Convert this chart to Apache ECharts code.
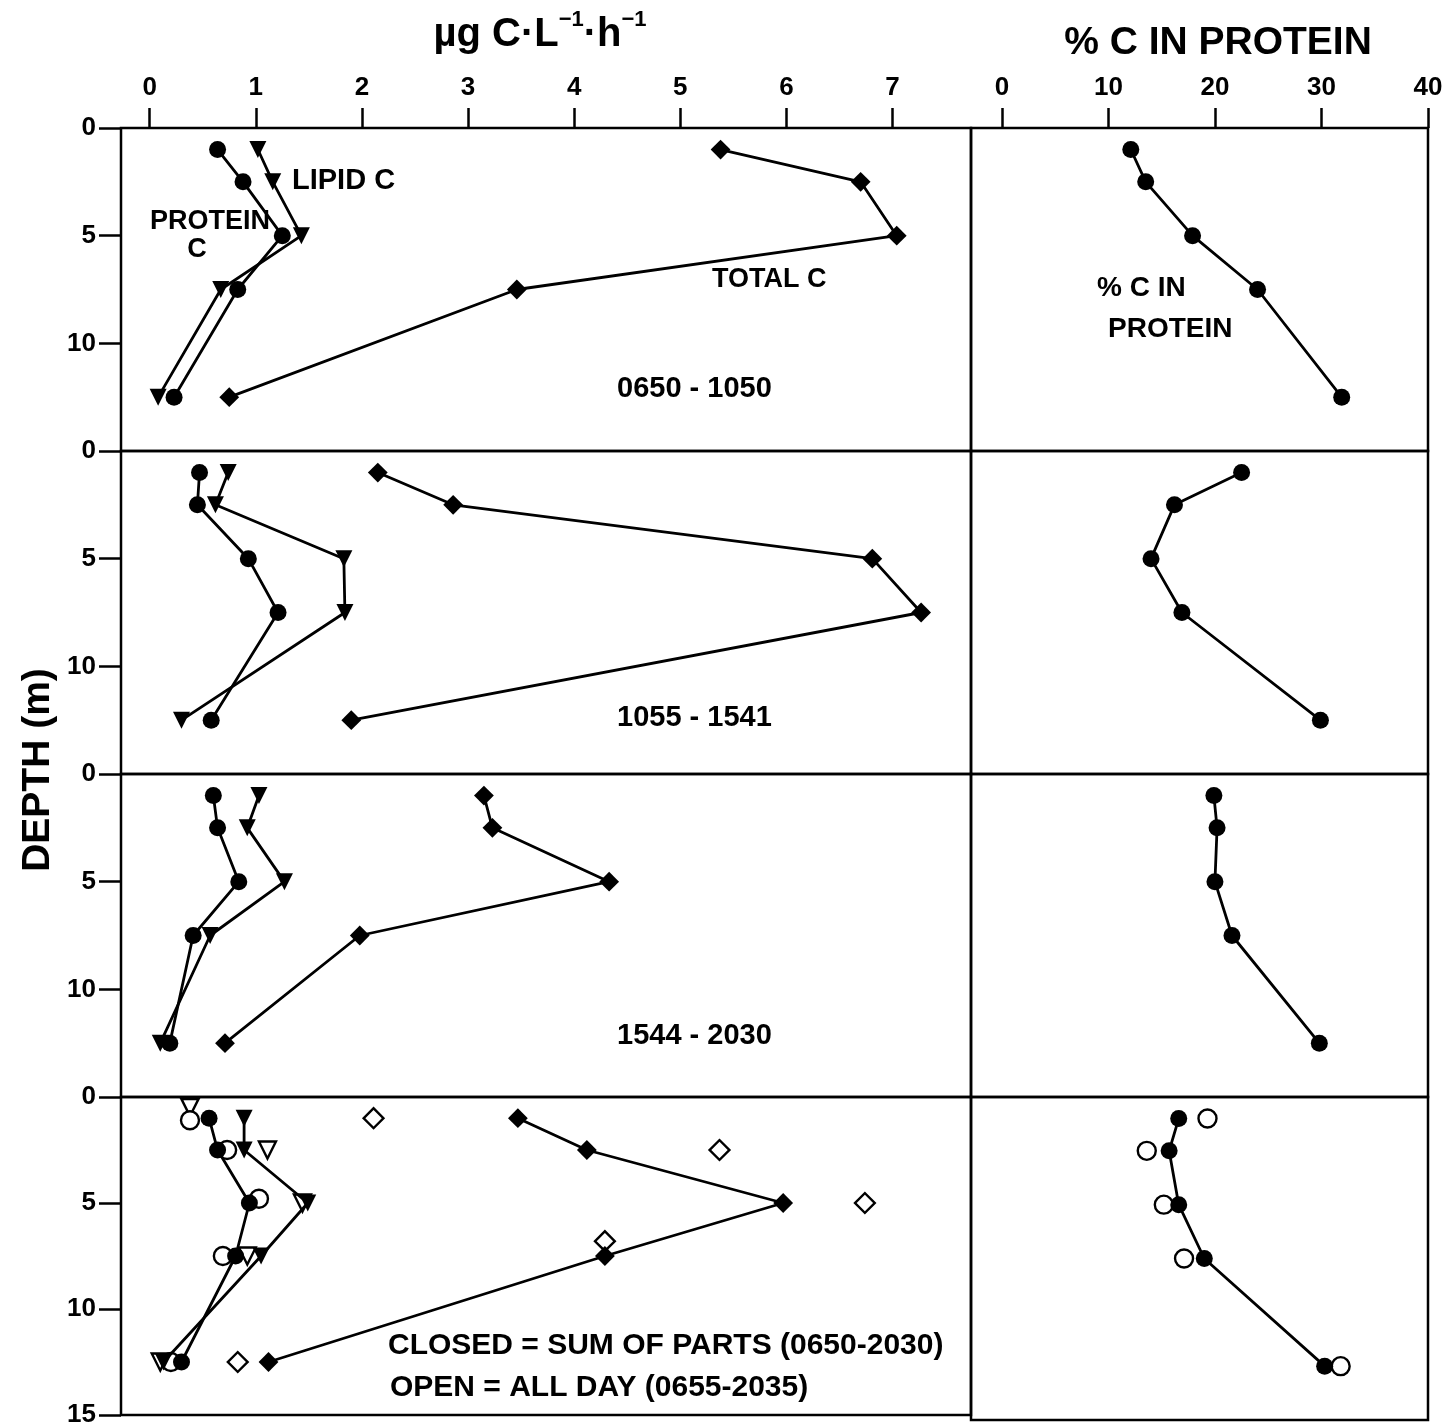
<!DOCTYPE html>
<html>
<head>
<meta charset="utf-8">
<title>Depth profiles of carbon incorporation</title>
<script src="https://cdn.jsdelivr.net/npm/echarts@6/dist/echarts.min.js"></script>
<style>
  html, body { margin: 0; padding: 0; background: #fff; }
  #chart { width: 1453px; height: 1428px; }
</style>
</head>
<body>
<div id="chart"></div>
<script>
// sampling depths (m)
const depthM = [1, 2.5, 5, 7.5, 12.5];
const periods = ['0650 - 1050', '1055 - 1541', '1544 - 2030'];
const rateTicks = [0, 1, 2, 3, 4, 5, 6, 7];
const pctTicks = [0, 10, 20, 30, 40];

// closed symbols, one row per time panel (µg C·L-1·h-1)
const proteinC = [
  [0.64, 0.88, 1.25, 0.83, 0.23],
  [0.47, 0.45, 0.93, 1.21, 0.58],
  [0.60, 0.64, 0.84, 0.41, 0.19],
  [0.56, 0.64, 0.94, 0.81, 0.30]
];
const lipidC = [
  [1.02, 1.16, 1.43, 0.67, 0.08],
  [0.74, 0.62, 1.83, 1.84, 0.30],
  [1.03, 0.92, 1.27, 0.57, 0.10],
  [0.89, 0.89, 1.49, 1.05, 0.13]
];
const totalC = [
  [5.38, 6.70, 7.04, 3.46, 0.75],
  [2.15, 2.86, 6.81, 7.27, 1.90],
  [3.15, 3.23, 4.33, 1.98, 0.71],
  [3.47, 4.12, 5.97, 4.29, 1.12]
];
// % C in protein
const pctProtein = [
  [12.1, 13.5, 17.9, 24.0, 31.9],
  [22.5, 16.2, 14.0, 16.9, 29.9],
  [19.9, 20.2, 20.0, 21.6, 29.8],
  [16.6, 15.7, 16.6, 19.0, 30.3]
];

// open symbols: all day incubation (0655-2035), bottom panel only
const openProtein = [0.38, 0.73, 1.03, 0.69, 0.20];
const openProteinDepth = [1.1, 2.5, 4.8, 7.5, 12.5];
const openLipid = [0.38, 1.11, 1.44, 0.92, 0.10];
const openLipidDepth = [0.5, 2.5, 5, 7.5, 12.5];
const openTotal = [2.11, 5.37, 6.74, 4.29, 0.83];
const openTotalDepth = [1, 2.5, 5, 6.8, 12.5];
const openPct = [19.3, 13.6, 15.2, 17.1, 31.8];

const FONT = 'Liberation Sans, Arial, sans-serif';
const chart = echarts.init(document.getElementById('chart'));

function pairs(vals, depths) {
  return vals.map((v, i) => [v, depths[i]]);
}

const grids = [], xAxes = [], yAxes = [], series = [];
const rowTop = 128, rowH = 323;

for (let r = 0; r < 4; r++) {
  for (let c = 0; c < 2; c++) {
    const gi = grids.length;
    grids.push({
      left: c === 0 ? 121 : 971,
      top: rowTop + r * rowH,
      width: c === 0 ? 850 : 457,
      height: rowH,
      show: true,
      borderColor: '#000',
      borderWidth: 2.5,
      backgroundColor: 'transparent'
    });
    const ticks = c === 0 ? rateTicks : pctTicks;
    xAxes.push({
      type: 'value',
      gridIndex: gi,
      position: 'top',
      min: c === 0 ? -0.27 : -2.9,
      max: c === 0 ? 7.74 : 40,
      axisLine: {show: false, onZero: false},
      splitLine: {show: false},
      axisTick: {
        show: r === 0, inside: false, length: 20,
        customValues: ticks,
        lineStyle: {color: '#000', width: 2.5}
      },
      axisLabel: {
        show: r === 0, margin: 27, customValues: ticks,
        color: '#000', fontSize: 26, fontWeight: 'bold', fontFamily: FONT
      }
    });
    const yTicks = r === 3 ? [0, 5, 10, 15] : [0, 5, 10];
    yAxes.push({
      type: 'value',
      gridIndex: gi,
      inverse: true,
      min: 0,
      max: 15,
      axisLine: {show: false, onZero: false},
      splitLine: {show: false},
      axisTick: {
        show: c === 0, inside: false, length: 22,
        customValues: yTicks,
        lineStyle: {color: '#000', width: 2.5}
      },
      axisLabel: {
        show: c === 0, margin: 25, customValues: yTicks,
        color: '#000', fontSize: 26, fontWeight: 'bold', fontFamily: FONT
      }
    });
  }
}

const lineBase = {
  type: 'line',
  lineStyle: {color: '#000', width: 2.8},
  itemStyle: {color: '#000', opacity: 1},
  showSymbol: true,
  z: 3
};
const openBase = {
  type: 'scatter',
  itemStyle: {color: '#fff', borderColor: '#000', borderWidth: 2.4, opacity: 1},
  z: 2
};
const circle = {symbol: 'circle', symbolSize: 17};
const tri = {symbol: 'triangle', symbolSize: 17, symbolRotate: 180};
const diamond = {symbol: 'rect', symbolSize: 14, symbolRotate: 45};

for (let r = 0; r < 4; r++) {
  const gL = r * 2, gR = r * 2 + 1;
  if (r === 3) {
    series.push(Object.assign({}, openBase, tri, {xAxisIndex: gL, yAxisIndex: gL, data: pairs(openLipid, openLipidDepth)}));
    series.push(Object.assign({}, openBase, circle, {symbolSize: 18, xAxisIndex: gL, yAxisIndex: gL, data: pairs(openProtein, openProteinDepth)}));
    series.push(Object.assign({}, openBase, diamond, {symbolSize: 14, xAxisIndex: gL, yAxisIndex: gL, data: pairs(openTotal, openTotalDepth)}));
    series.push(Object.assign({}, openBase, circle, {symbolSize: 18, xAxisIndex: gR, yAxisIndex: gR, data: pairs(openPct, depthM)}));
  }
  series.push(Object.assign({}, lineBase, circle, {xAxisIndex: gL, yAxisIndex: gL, data: pairs(proteinC[r], depthM)}));
  series.push(Object.assign({}, lineBase, tri, {xAxisIndex: gL, yAxisIndex: gL, data: pairs(lipidC[r], depthM)}));
  series.push(Object.assign({}, lineBase, diamond, {xAxisIndex: gL, yAxisIndex: gL, data: pairs(totalC[r], depthM)}));
  series.push(Object.assign({}, lineBase, circle, {xAxisIndex: gR, yAxisIndex: gR, data: pairs(pctProtein[r], depthM)}));
}

function label(text, x, y, size, align) {
  return {
    type: 'text', x: x, y: y, z: 10,
    style: {
      text: text, fill: '#000', font: 'bold ' + size + 'px ' + FONT,
      align: align || 'left', verticalAlign: 'middle'
    }
  };
}

const graphics = [
  {
    type: 'text', x: 540, y: 32, z: 10,
    style: {
      text: '{m|µg C·L}{s|−1}{m|·h}{s|−1}',
      align: 'center', verticalAlign: 'middle', fill: '#000',
      rich: {
        m: {fontSize: 40, fontWeight: 'bold', fontFamily: FONT, lineHeight: 46, verticalAlign: 'bottom'},
        s: {fontSize: 22, fontWeight: 'bold', fontFamily: FONT, lineHeight: 46, verticalAlign: 'top'}
      }
    }
  },
  label('% C IN PROTEIN', 1218, 43, 39, 'center'),
  {
    type: 'text', x: 38, y: 770, rotation: Math.PI / 2, z: 10,
    style: {
      text: 'DEPTH (m)', fill: '#000', font: 'bold 39px ' + FONT,
      align: 'center', verticalAlign: 'middle'
    }
  },
  label('LIPID C', 292, 181, 29),
  label('PROTEIN', 150, 222, 27),
  label('C', 197, 250, 27, 'center'),
  label('TOTAL C', 712, 280, 27),
  label(periods[0], 617, 389, 29),
  label('% C IN', 1097, 288, 28),
  label('PROTEIN', 1108, 329, 28),
  label(periods[1], 617, 718, 29),
  label(periods[2], 617, 1036, 29),
  label('CLOSED = SUM OF PARTS (0650-2030)', 388, 1346, 30),
  label('OPEN = ALL DAY (0655-2035)', 390, 1388, 30)
];

chart.setOption({
  animation: false,
  backgroundColor: '#fff',
  grid: grids,
  xAxis: xAxes,
  yAxis: yAxes,
  series: series,
  graphic: graphics
});
</script>
</body>
</html>
